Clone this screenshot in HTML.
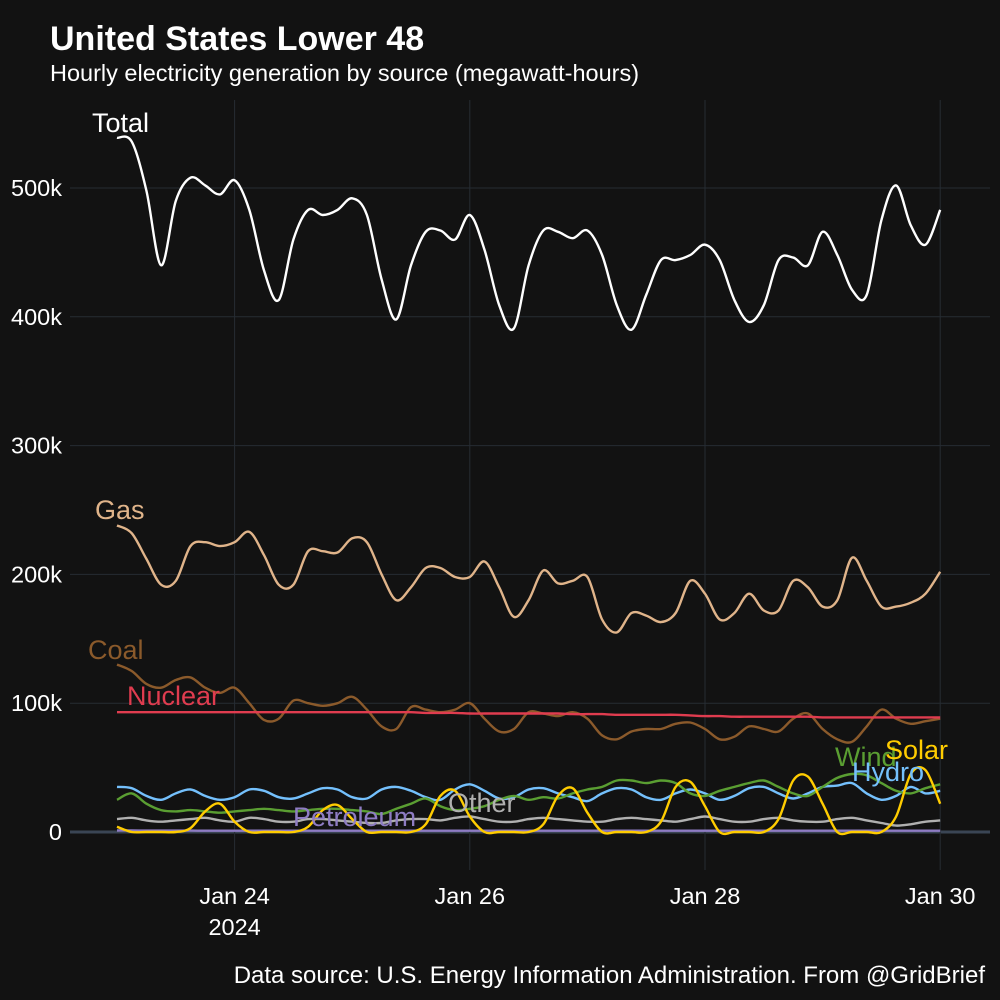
<!DOCTYPE html>
<html><head><meta charset="utf-8">
<style>
html,body{margin:0;padding:0;background:#121212;}
svg{display:block;font-family:"Liberation Sans",Arial,sans-serif;}
</style></head>
<body>
<svg id="chart" width="1000" height="1000" viewBox="0 0 1000 1000">
<rect width="1000" height="1000" fill="#121212"/>
<text x="50" y="50" fill="#fff" font-size="34" font-weight="bold">United States Lower 48</text>
<text x="50" y="81" fill="#fff" font-size="23.5">Hourly electricity generation by source (megawatt-hours)</text>
<g id="grid"></g>
<g id="axes"></g>
<g id="series"></g>
<g id="labels"></g>
<text x="985" y="983" fill="#fff" font-size="24" text-anchor="end">Data source: U.S. Energy Information Administration. From @GridBrief</text>
</svg>
<script>
const yTicks = [0, 100, 200, 300, 400, 500];
const yTickLabels = ["0", "100k", "200k", "300k", "400k", "500k"];
const xTicks = [24, 72, 120, 168];
const xTickLabels = ["Jan 24", "Jan 26", "Jan 28", "Jan 30"];
const hours = [];
for (let h = 0; h <= 168; h += 3) hours.push(h);
const totalValues = [539,536,498,440,490,508,502,495,506,483,436,413,460,483,479,483,492,479,429,398,440,466,467,460,479,452,409,391,440,467,466,461,467,448,409,390,417,444,444,448,456,444,413,396,409,444,446,440,466,448,421,417,475,502,471,456,483];
const gasValues = [238,232,212,192,195,222,225,222,225,233,215,192,192,218,218,217,228,225,200,180,190,205,205,198,198,210,190,167,180,203,193,195,198,165,155,170,168,163,170,195,185,165,170,185,172,172,195,190,175,180,213,195,175,175,178,185,202];
const coalValues = [130,125,115,112,118,120,112,108,112,100,87,88,102,100,98,100,105,95,82,80,97,95,93,95,100,88,78,80,93,92,90,93,88,75,72,78,80,80,84,85,80,72,74,82,80,78,88,92,80,72,70,82,95,88,84,86,88];
const nuclearValues = [93,93,93,93,93,93,93,93,93,93,93,93,93,93,93,93,93,93,93,93,93,92.5,92.5,92.5,92,92,92,92,92,92,92,91.5,91.5,91.5,91,91,91,91,91,90.5,90,90,89.5,89.5,89.5,89.5,89.5,89.5,89,89,89,89,89,89,89,89,89];
const windValues = [25,30,22,17,16,17,16,15,16,17,18,17,16,17,18,18,17,16,14,18,22,26,20,17,18,20,25,28,25,27,26,30,33,35,40,40,38,40,38,30,28,32,35,38,40,35,30,28,35,42,45,44,38,32,30,34,37];
const hydroValues = [35,34,28,25,30,33,28,25,27,33,32,27,26,30,34,33,27,26,33,35,32,27,25,33,37,32,26,27,33,34,30,27,24,30,34,33,27,25,30,33,30,25,28,34,35,30,26,30,35,36,38,30,25,28,35,30,32];
const solarValues = [4,0,0,0,0,3,16,22, 8,0,0,0,0,4,17,21, 10,0,0,0,0,6,28,32, 12,0,0,0,0,6,28,34, 15,0,0,0,0,8,35,39, 20,0,0,0,0,10,40,43, 22,0,0,0,0,12,45,48, 22];
const otherValues = [10,11,9,8,9,10,11,9,8,11,10,8,8,10,10,9,8,7,7,9,10,10,9,11,12,10,8,8,10,11,10,9,8,8,10,11,10,9,8,10,12,10,8,8,10,11,9,8,8,10,11,9,7,5,6,8,9];
const petroleumValues = [1.2,1.2,1.1,1.1,1.1,1.1,1,1,1,1,1,1,1,1,1,1,1,1,1,1,1,1,1,1,1,1,1,1,1,1,1,1,1,1,1,1,1,1,1,1,1,1,1,1,1,1,1,1,1,1,1,1,1,1,1,1,1];

const NS = "http://www.w3.org/2000/svg";
const X0 = 117, PXH = 117.6 / 24;
const Y0 = 832, PXK = 1.288;
function xScale(h) { return X0 + h * PXH; }
function yScale(v) { return Y0 - v * PXK; }
function mk(tag, attrs, parent) {
  const el = document.createElementNS(NS, tag);
  for (const k in attrs) el.setAttribute(k, attrs[k]);
  parent.appendChild(el);
  return el;
}
function smoothPath(pts) {
  let d = "M" + pts[0][0].toFixed(1) + "," + pts[0][1].toFixed(1);
  for (let i = 0; i < pts.length - 1; i++) {
    const p0 = pts[Math.max(0, i - 1)], p1 = pts[i], p2 = pts[i + 1], p3 = pts[Math.min(pts.length - 1, i + 2)];
    const c1x = p1[0] + (p2[0] - p0[0]) / 6, c1y = p1[1] + (p2[1] - p0[1]) / 6;
    const c2x = p2[0] - (p3[0] - p1[0]) / 6, c2y = p2[1] - (p3[1] - p1[1]) / 6;
    d += " C" + c1x.toFixed(1) + "," + c1y.toFixed(1) + " " + c2x.toFixed(1) + "," + c2y.toFixed(1) + " " + p2[0].toFixed(1) + "," + p2[1].toFixed(1);
  }
  return d;
}
const grid = document.getElementById("grid");
const axes = document.getElementById("axes");
yTicks.forEach((v, i) => {
  const l = mk("line", {x1: 70, x2: 990, y1: yScale(v), y2: yScale(v), stroke: v === 0 ? "#3a4554" : "#262c33", "stroke-width": v === 0 ? 3 : 1}, grid);
  
  
  const t = mk("text", {x: 62, y: yScale(v) + 8, fill: "#fff", "font-size": 23.5, "text-anchor": "end"}, axes);
  t.textContent = yTickLabels[i];
  
  
});
xTicks.forEach((h, i) => {
  const l = mk("line", {x1: xScale(h), x2: xScale(h), y1: 100, y2: 870, stroke: "#262c33", "stroke-width": 1}, grid);
  
  
  const t = mk("text", {x: xScale(h), y: 904, fill: "#fff", "font-size": 23.5, "text-anchor": "middle"}, axes);
  t.textContent = xTickLabels[i];
  
  
});
const yr = mk("text", {x: xScale(24), y: 935, fill: "#fff", "font-size": 23.5, "text-anchor": "middle"}, axes);
yr.textContent = "2024";



const seriesG = document.getElementById("series");
const series = [
  ["petroleum", petroleumValues, "#8e7cc3"],
  ["other", otherValues, "#b0b0b0"],
  ["hydro", hydroValues, "#74c0fc"],
  ["wind", windValues, "#5a9e32"],
  ["solar", solarValues, "#ffcc00"],
  ["coal", coalValues, "#8b5a2b"],
  ["nuclear", nuclearValues, "#e03c4f"],
  ["gas", gasValues, "#e0b48a"],
  ["total", totalValues, "#ffffff"]
];
series.forEach(s => {
  const pts = s[1].map((v, i) => [xScale(hours[i]), yScale(v)]);
  const p = mk("path", {d: smoothPath(pts), fill: "none", stroke: s[2], "stroke-width": 2.4, "stroke-linejoin": "round"}, seriesG);
  
  
});
const labelsG = document.getElementById("labels");
const labels = [
  ["Total", 92, 132, "#ffffff"], ["Gas", 95, 519, "#e0b48a"], ["Coal", 88, 659, "#8b5a2b"],
  ["Nuclear", 127, 705, "#e03c4f"], ["Wind", 835, 766, "#5a9e32"], ["Hydro", 852, 781, "#74c0fc"],
  ["Solar", 885, 759, "#ffcc00"], ["Other", 448, 812, "#b0b0b0"], ["Petroleum", 293, 826, "#8e7cc3"]
];
labels.forEach(l => {
  const t = mk("text", {x: l[1], y: l[2], fill: l[3], "font-size": 27}, labelsG);
  t.textContent = l[0];
  
  
});
</script>
</body></html>
